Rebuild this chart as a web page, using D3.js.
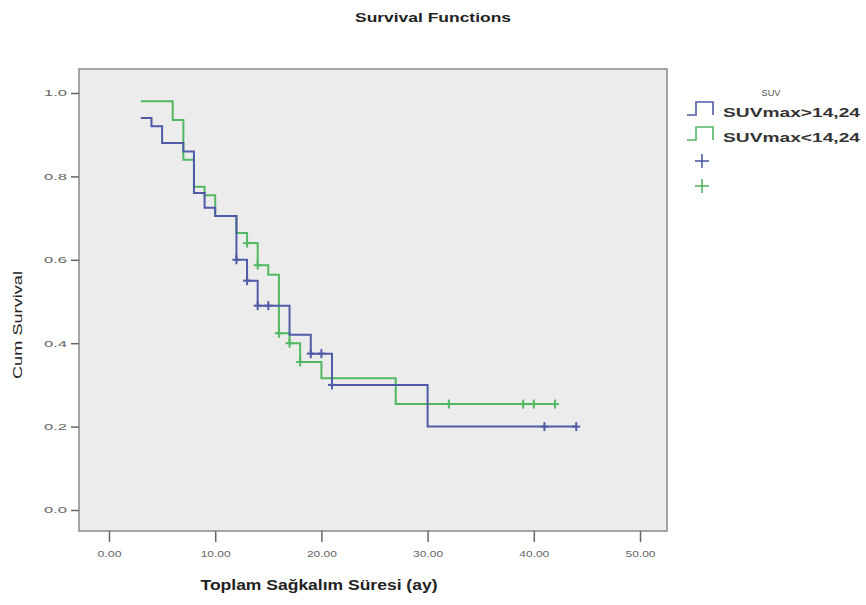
<!DOCTYPE html>
<html>
<head>
<meta charset="utf-8">
<script src="https://cdnjs.cloudflare.com/ajax/libs/d3/7.8.5/d3.min.js"></script>
<style>
  body { margin: 0; background: #fff; }
  text { font-family: "Liberation Sans", Arial, sans-serif; }
</style>
</head>
<body>
<div id="chart"></div>
<script>
// survival steps (time in months, cumulative survival)
var highTimes = [3, 4, 5, 7, 8, 9, 10, 12, 13, 14, 17, 19, 21, 30, 44];
var highSurv  = [0.94, 0.92, 0.88, 0.86, 0.76, 0.725, 0.705, 0.60, 0.55, 0.49, 0.42, 0.375, 0.30, 0.20, 0.20];
var highCens  = [12, 13, 14, 15, 19, 20, 21, 41, 44];

var lowTimes = [3, 6, 7, 8, 9, 10, 12, 13, 14, 15, 16, 17, 18, 20, 27, 42];
var lowSurv  = [0.98, 0.935, 0.84, 0.775, 0.755, 0.705, 0.664, 0.64, 0.587, 0.564, 0.424, 0.40, 0.355, 0.316, 0.254, 0.254];
var lowCens  = [13, 14, 16, 17, 18, 32, 39, 40, 42];

var groupNames = ["SUVmax>14,24", "SUVmax<14,24"];
var xTicks = [0, 10, 20, 30, 40, 50];
var yTicks = [0, 0.2, 0.4, 0.6, 0.8, 1.0];

var svgWidth = 866, svgHeight = 605;
var colors = ["#4f5ba6", "#52b862"];

var svg = d3.select("#chart").append("svg")
  .attr("width", svgWidth)
  .attr("height", svgHeight);

var x = d3.scaleLinear().domain([0, 50]).range([109, 640]);
var y = d3.scaleLinear().domain([0, 1]).range([510, 93]);

// plot frame
var frameL = 79, frameR = 667, frameT = 69, frameB = 531;
svg.append("rect")
  .attr("x", frameL).attr("y", frameT)
  .attr("width", frameR - frameL).attr("height", frameB - frameT)
  .attr("fill", "#ececec")
  .attr("stroke", "#8a8a8a")
  .attr("stroke-width", 1.5);

// title
svg.append("text")
  .attr("x", 433).attr("y", 22)
  .attr("text-anchor", "middle")
  .attr("font-size", "13px").attr("font-weight", "bold")
  .attr("fill", "#222")
  .attr("textLength", 156).attr("lengthAdjust", "spacingAndGlyphs")
  .text("Survival Functions");

// axes
var xAxis = svg.append("g")
  .attr("transform", "translate(0," + frameB + ")")
  .call(d3.axisBottom(x).tickValues(xTicks).tickSize(11).tickPadding(9).tickFormat(d3.format(".2f")));
xAxis.select(".domain").remove();
xAxis.selectAll("line").attr("stroke", "#666").attr("stroke-width", 1.5);
xAxis.selectAll("text")
  .attr("font-size", "9px").attr("fill", "#666")
  .attr("font-family", "Liberation Sans, Arial, sans-serif")
  .attr("textLength", function(d) { return d < 10 ? 24 : 30; })
  .attr("lengthAdjust", "spacingAndGlyphs");

var yAxis = svg.append("g")
  .attr("transform", "translate(" + frameL + ",0)")
  .call(d3.axisLeft(y).tickValues(yTicks).tickSize(8).tickPadding(4).tickFormat(d3.format(".1f")));
yAxis.select(".domain").remove();
yAxis.selectAll("line").attr("stroke", "#666").attr("stroke-width", 1.5);
yAxis.selectAll("text")
  .attr("font-size", "9px").attr("fill", "#666")
  .attr("font-family", "Liberation Sans, Arial, sans-serif")
  .attr("textLength", 23)
  .attr("lengthAdjust", "spacingAndGlyphs");

// axis labels
svg.append("text")
  .attr("transform", "translate(22,325) rotate(-90)")
  .attr("text-anchor", "middle")
  .attr("font-size", "13px").attr("fill", "#222")
  .attr("textLength", 108).attr("lengthAdjust", "spacingAndGlyphs")
  .text("Cum Survival");

svg.append("text")
  .attr("x", 319).attr("y", 590)
  .attr("text-anchor", "middle")
  .attr("font-size", "14px").attr("font-weight", "bold")
  .attr("fill", "#222")
  .attr("textLength", 237).attr("lengthAdjust", "spacingAndGlyphs")
  .text("Toplam Sağkalım Süresi (ay)");

// curves
var stepLine = d3.line()
  .x(function(d) { return x(d[0]); })
  .y(function(d) { return y(d[1]); })
  .curve(d3.curveStepAfter);

function survAt(times, surv, t) {
  var s = surv[0];
  for (var i = 0; i < times.length; i++) {
    if (times[i] <= t) s = surv[i];
  }
  return s;
}

var groups = [
  { times: highTimes, surv: highSurv, cens: highCens },
  { times: lowTimes, surv: lowSurv, cens: lowCens }
];

var plot = svg.append("g");

// draw green first so blue sits on top where they overlap
[1, 0].forEach(function(gi) {
  var g = groups[gi];
  var pts = g.times.map(function(t, i) { return [t, g.surv[i]]; });
  plot.append("path")
    .datum(pts)
    .attr("d", stepLine)
    .attr("fill", "none")
    .attr("stroke", colors[gi])
    .attr("stroke-width", 2);

  var marks = plot.selectAll(null)
    .data(g.cens)
    .enter()
    .append("g")
    .attr("transform", function(t) {
      return "translate(" + x(t) + "," + y(survAt(g.times, g.surv, t)) + ")";
    });
  marks.append("line")
    .attr("x1", 0).attr("x2", 0).attr("y1", -4.5).attr("y2", 4.5)
    .attr("stroke", colors[gi]).attr("stroke-width", 2);
  marks.append("line")
    .attr("x1", -4).attr("x2", 4).attr("y1", 0).attr("y2", 0)
    .attr("stroke", colors[gi]).attr("stroke-width", 2);
});

// legend
var legend = svg.append("g");
legend.append("text")
  .attr("x", 771).attr("y", 96)
  .attr("text-anchor", "middle")
  .attr("font-size", "9px").attr("fill", "#555")
  .attr("textLength", 19).attr("lengthAdjust", "spacingAndGlyphs")
  .text("SUV");

groupNames.forEach(function(name, i) {
  var baseY = 117 + i * 25;
  legend.append("path")
    .attr("d", "M687," + (baseY - 2) + " H696 V" + (baseY - 15) + " H713 V" + (baseY - 2))
    .attr("fill", "none")
    .attr("stroke", colors[i])
    .attr("stroke-width", 1.6);
  legend.append("text")
    .attr("x", 723).attr("y", baseY)
    .attr("font-size", "13px").attr("font-weight", "bold")
    .attr("fill", "#333")
    .attr("textLength", 137).attr("lengthAdjust", "spacingAndGlyphs")
    .text(name);
  var cy = 161 + i * 25;
  legend.append("line")
    .attr("x1", 702).attr("x2", 702).attr("y1", cy - 7).attr("y2", cy + 7)
    .attr("stroke", colors[i]).attr("stroke-width", 1.6);
  legend.append("line")
    .attr("x1", 695).attr("x2", 709).attr("y1", cy).attr("y2", cy)
    .attr("stroke", colors[i]).attr("stroke-width", 1.6);
});
</script>
</body>
</html>
